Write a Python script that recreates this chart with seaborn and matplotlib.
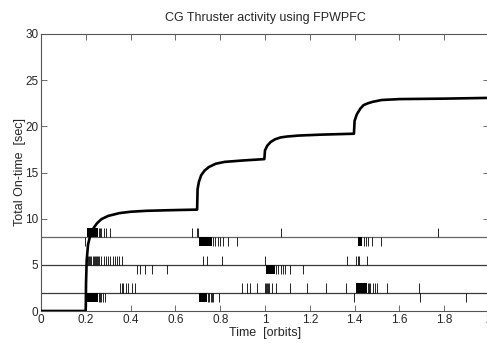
import matplotlib
matplotlib.use("Agg")
import matplotlib.pyplot as plt
import seaborn as sns
import pandas as pd

# total on-time curve
t_curve = [0.0, 0.199, 0.2, 0.201, 0.204, 0.21, 0.22, 0.235, 0.25, 0.27, 0.30, 0.35, 0.40,
           0.47, 0.58, 0.697, 0.699, 0.705, 0.715, 0.73, 0.75, 0.78, 0.82, 0.90, 0.997,
           1.0, 1.01, 1.025, 1.045, 1.07, 1.10, 1.15, 1.25, 1.397, 1.40, 1.41, 1.425,
           1.44, 1.46, 1.48, 1.52, 1.60, 1.80, 2.0]
on_time = [0.0, 0.0, 0.5, 3.0, 5.5, 7.2, 8.2, 9.0, 9.5, 9.95, 10.3, 10.6, 10.75,
           10.85, 10.92, 10.98, 13.2, 14.0, 14.7, 15.2, 15.6, 15.95, 16.15, 16.3, 16.45,
           17.4, 17.9, 18.3, 18.6, 18.8, 18.9, 19.0, 19.1, 19.2, 20.6, 21.3, 21.9,
           22.3, 22.5, 22.65, 22.85, 22.95, 23.0, 23.08]

# thruster firing marks: baseline level, single firings above / below, dense bursts
levels = [8, 5, 2]
fires_up = {
    8: [0.26, 0.265, 0.27, 0.28, 0.29, 0.308, 0.673, 0.695, 0.70, 1.07, 1.774],
    5: [0.21, 0.215, 0.22, 0.225, 0.23, 0.235, 0.24, 0.245, 0.25, 0.255, 0.26, 0.27,
        0.28, 0.29, 0.30, 0.31, 0.32, 0.33, 0.34, 0.35, 0.36, 0.725, 0.74, 0.807,
        1.0, 1.365, 1.406, 1.414, 1.42, 1.454],
    2: [0.353, 0.36, 0.367, 0.38, 0.39, 0.405, 0.42, 0.899, 0.918, 0.933, 0.966,
        1.0, 1.005, 1.01, 1.015, 1.02, 1.03, 1.05, 1.11, 1.186, 1.272, 1.36,
        1.459, 1.465, 1.47, 1.48, 1.49, 1.50, 1.543, 1.689],
}
fires_down = {
    8: [0.198, 0.77, 0.777, 0.789, 0.799, 0.814, 0.836, 0.874,
        1.44, 1.45, 1.46, 1.476, 1.52],
    5: [0.43, 0.442, 0.465, 0.495, 0.562, 1.05, 1.06, 1.07, 1.08, 1.09, 1.11, 1.171],
    2: [0.26, 0.265, 0.27, 0.278, 0.286, 0.745, 0.75, 0.757, 0.765, 0.77, 0.795,
        1.399, 1.69, 1.896],
}
bursts_up = {8: [(0.207, 0.256)], 5: [], 2: [(1.405, 1.454)]}
bursts_down = {8: [(0.707, 0.762), (1.414, 1.432)], 5: [(1.004, 1.045)],
               2: [(0.204, 0.256), (0.707, 0.74)]}

x_ticks = [0, 0.2, 0.4, 0.6, 0.8, 1, 1.2, 1.4, 1.6, 1.8, 2]
x_labels = ["0", "0.2", "0.4", "0.6", "0.8", "1", "1.2", "1.4", "1.6", "1.8", "2"]
y_ticks = [0, 5, 10, 15, 20, 25, 30]

sns.set_style("ticks")
plt.rcParams["font.family"] = ["Liberation Sans Narrow", "Liberation Sans", "DejaVu Sans"]

fig = plt.figure(figsize=(4.87, 3.49), dpi=100)
ax = fig.add_axes([41 / 487, 1 - 311 / 349, 448 / 487, 277 / 349])

for lv in levels:
    ax.axhline(lv, color="#3a3a3a" if lv != 8 else "#666666", lw=0.9, zorder=1)
    ax.vlines(fires_up[lv], lv, lv + 1, color="black", lw=0.6, zorder=2)
    ax.vlines(fires_down[lv], lv - 1, lv, color="black", lw=0.6, zorder=2)
    for s, e in bursts_up[lv]:
        ax.fill_between([s, e], lv, lv + 1, color="black", lw=0, zorder=2)
    for s, e in bursts_down[lv]:
        ax.fill_between([s, e], lv - 1, lv, color="black", lw=0, zorder=2)

df = pd.DataFrame({"t": t_curve, "y": on_time})
sns.lineplot(data=df, x="t", y="y", color="black", lw=1.9, ax=ax, zorder=3,
             sort=False, estimator=None)

ax.set_xlim(0, 2)
ax.set_ylim(0, 30)
ax.set_xticks(x_ticks)
ax.set_xticklabels(x_labels)
ax.set_yticks(y_ticks)
ax.tick_params(direction="in", length=4, width=0.6, color="#555555",
               top=True, right=True, labelsize=8.5, pad=2)
for sp in ax.spines.values():
    sp.set_color("#555555")
    sp.set_linewidth(0.8)

ax.set_title("CG Thruster activity using FPWPFC", fontsize=9, pad=9)
ax.set_xlabel("Time  [orbits]", fontsize=9, labelpad=1)
ax.set_ylabel("Total On-time  [sec]", fontsize=9, labelpad=-1)

fig.savefig("out.png", dpi=100, facecolor="white")
